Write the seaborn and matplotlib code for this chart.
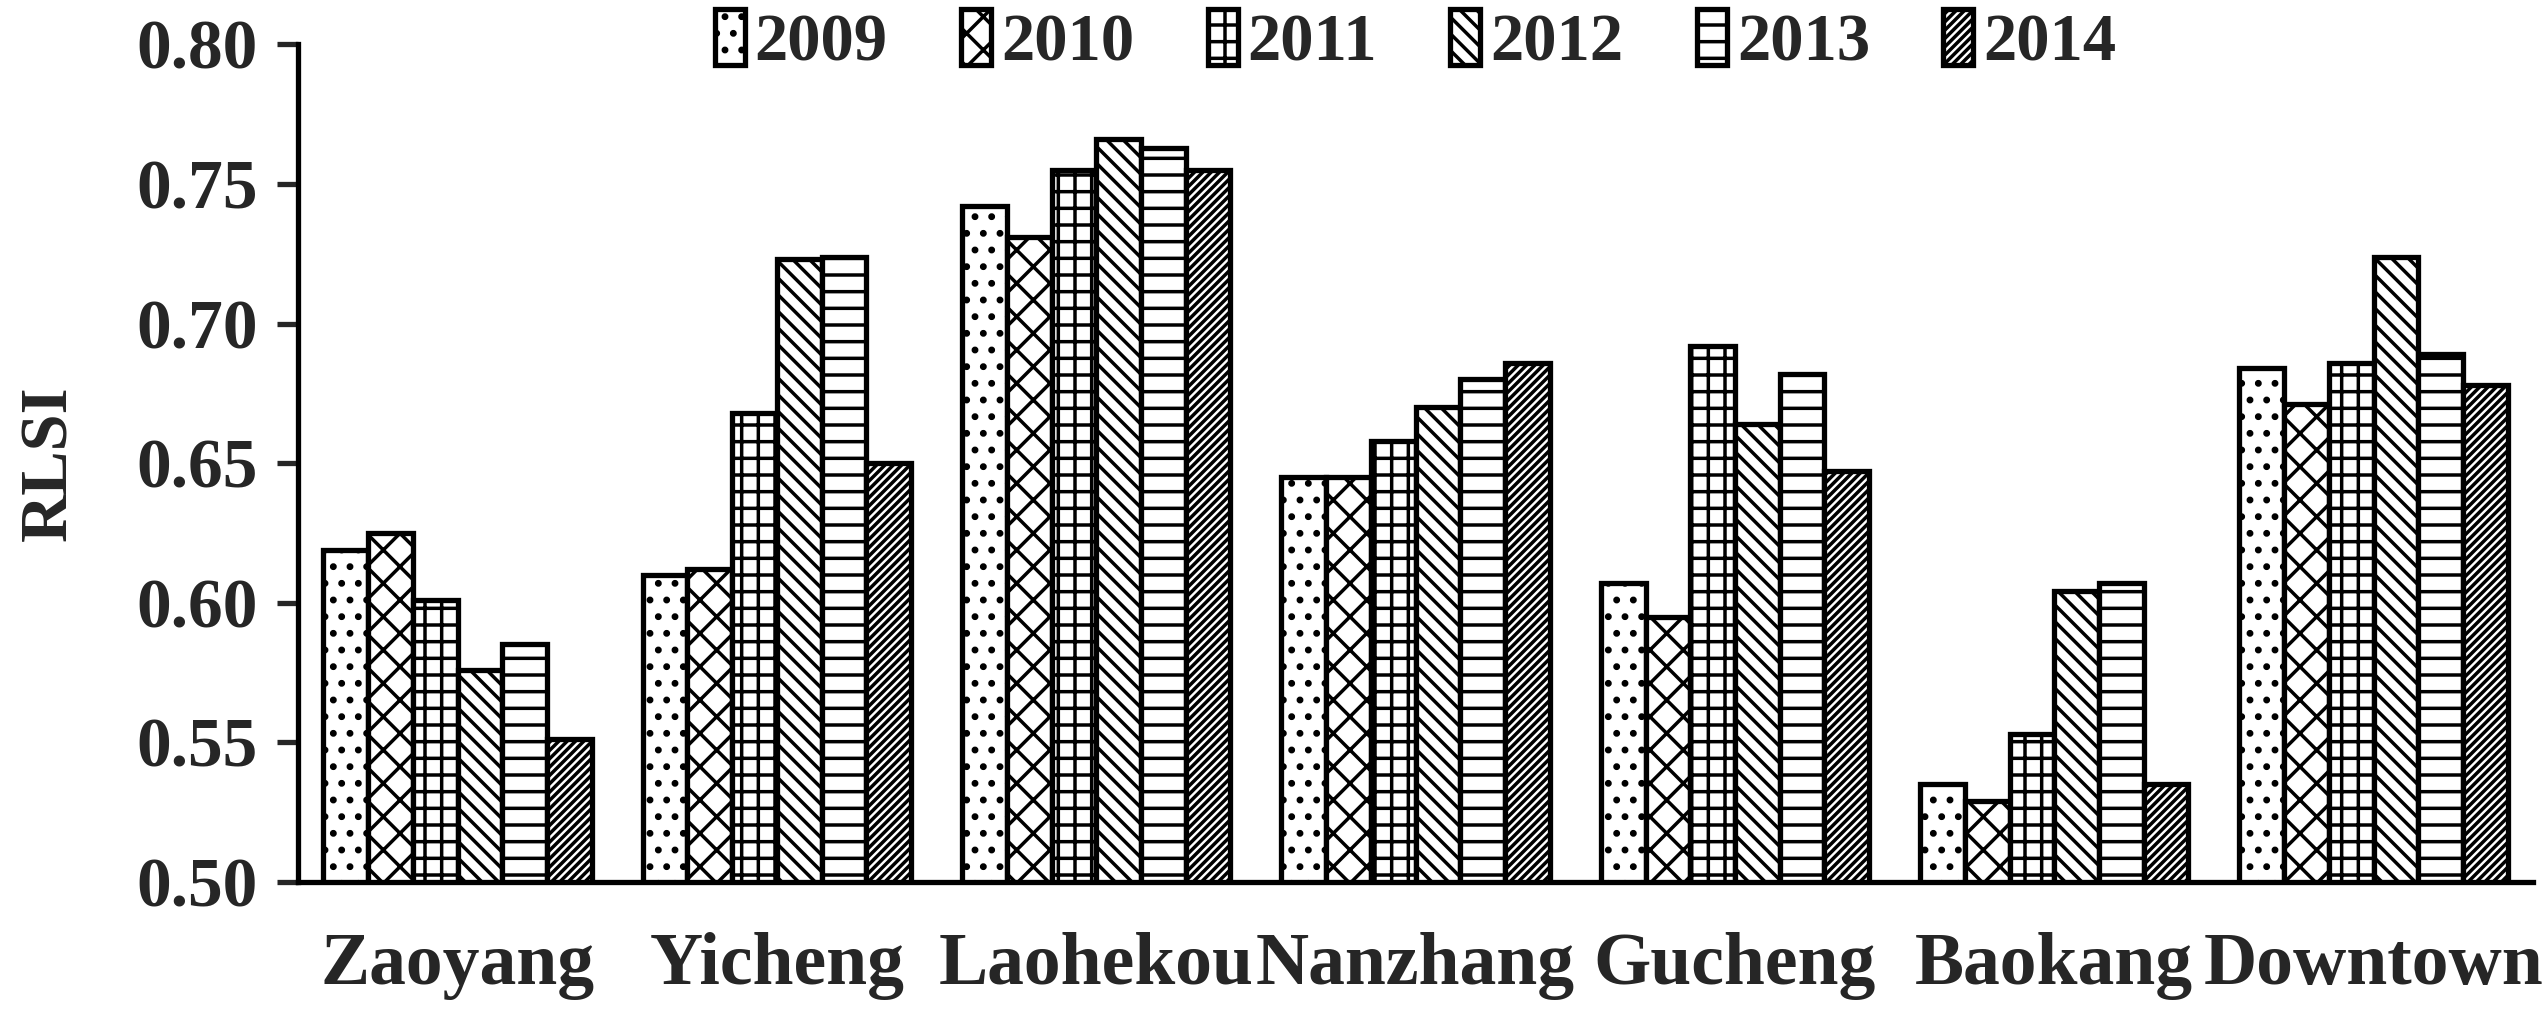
import matplotlib
matplotlib.use("Agg")
import matplotlib.pyplot as plt
import numpy as np
import pandas as pd
import seaborn as sns

regions = ["Zaoyang", "Yicheng", "Laohekou", "Nanzhang", "Gucheng", "Baokang", "Downtown"]
years = ["2009", "2010", "2011", "2012", "2013", "2014"]

# RLSI per region, one list per year
rlsi_2009 = [0.619, 0.610, 0.742, 0.645, 0.607, 0.535, 0.684]
rlsi_2010 = [0.625, 0.612, 0.731, 0.645, 0.595, 0.529, 0.671]
rlsi_2011 = [0.601, 0.668, 0.755, 0.658, 0.692, 0.553, 0.686]
rlsi_2012 = [0.576, 0.723, 0.766, 0.670, 0.664, 0.604, 0.724]
rlsi_2013 = [0.585, 0.724, 0.763, 0.680, 0.682, 0.607, 0.689]
rlsi_2014 = [0.551, 0.650, 0.755, 0.686, 0.647, 0.535, 0.678]

yticks = [0.50, 0.55, 0.60, 0.65, 0.70, 0.75, 0.80]
hatches = [".", "x", "+", "\\\\", "-", "////"]

series = [rlsi_2009, rlsi_2010, rlsi_2011, rlsi_2012, rlsi_2013, rlsi_2014]
rows = []
for yr, vals in zip(years, series):
    for reg, v in zip(regions, vals):
        rows.append({"region": reg, "year": yr, "RLSI": v})
df = pd.DataFrame(rows)

sns.set_style("white")
plt.rcParams["font.family"] = ["Liberation Serif", "DejaVu Serif"]
plt.rcParams["font.weight"] = "bold"
plt.rcParams["hatch.linewidth"] = 2.5
plt.rcParams["hatch.color"] = "black"

fig = plt.figure(figsize=(25.46, 10.10), dpi=100)
ax = fig.add_axes([0.117, 0.127, 0.878, 0.829])

sns.barplot(data=df, x="region", y="RLSI", hue="year", order=regions, hue_order=years,
            palette=["white"] * 6, edgecolor="black", linewidth=3.8, width=0.84,
            saturation=1, ax=ax)

for cont, h in zip(ax.containers, hatches):
    for p in cont.patches:
        p.set_hatch(h)

ax.get_legend().remove()
fig.legend(ax.containers, years, loc="upper center", bbox_to_anchor=(0.556, 1.05),
           ncol=6, frameon=False, handlelength=0.45, handleheight=0.9,
           handletextpad=0.15, columnspacing=1.1, prop={"weight": "bold", "size": 48})

ax.set_ylim(0.5, 0.8)
ax.set_xlim(-0.5, 6.5)
ax.set_yticks(yticks)
ax.set_yticklabels([f"{t:.2f}" for t in yticks], fontsize=50, fontweight="bold")
ax.set_xticks(range(len(regions)))
ax.set_xticklabels(regions, fontsize=53, fontweight="bold")
ax.set_xlabel("")
ax.set_ylabel("RLSI", fontsize=48, fontweight="bold", labelpad=40)

for s in ["top", "right"]:
    ax.spines[s].set_visible(False)
for s in ["left", "bottom"]:
    ax.spines[s].set_linewidth(3.8)
    ax.spines[s].set_color("black")
ax.tick_params(axis="y", direction="out", length=15, width=3.8, pad=14, left=True)
ax.tick_params(axis="x", length=0, pad=36)

fig.savefig("out.png", dpi=100, facecolor="white")
